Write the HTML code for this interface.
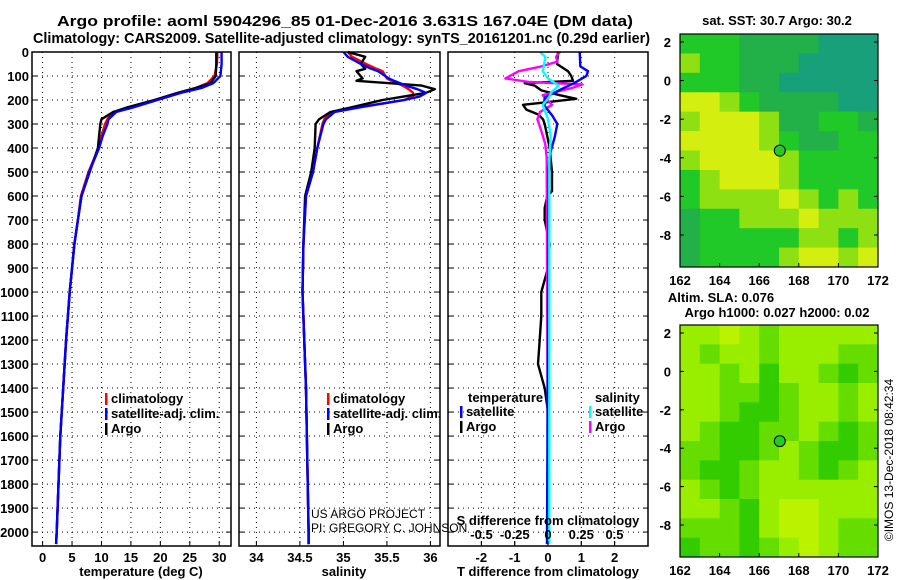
<!DOCTYPE html>
<html><head><meta charset="utf-8"><style>
html,body{margin:0;padding:0;background:#fff;width:900px;height:580px;overflow:hidden}
svg{display:block;font-family:"Liberation Sans",sans-serif}
.b{font-weight:bold;font-size:13px}
.t{font-weight:bold;font-size:15px}
</style></head><body>
<svg id="fig" width="900" height="580" viewBox="0 0 900 580" xmlns="http://www.w3.org/2000/svg">
<text class="t" x="57" y="26" textLength="576" lengthAdjust="spacingAndGlyphs">Argo profile: aoml 5904296_85 01-Dec-2016 3.631S 167.04E (DM data)</text>
<text class="t" x="33" y="43" textLength="617" lengthAdjust="spacingAndGlyphs">Climatology: CARS2009. Satellite-adjusted climatology: synTS_20161201.nc (0.29d earlier)</text>
<g id="g"></g>
</svg>
<script>
// ---- profile data ----
const tempDepth = [0,50,100,130,150,170,200,230,250,280,300,350,400,500,600,700,800,1000,1200,1400,1600,1800,2000,2050];
const tempClim = [29.7,29.6,29.2,28,26,23,19,15,12,11,10.6,10,9.5,7.8,6.5,6,5.4,4.6,4,3.5,3,2.7,2.4,2.3];
const tempArgo = [29.5,29.5,29.4,28.5,26,23,19,14.5,12,10,9.8,9.6,9.4,8.0,6.6,6,5.4,4.6,4,3.5,3,2.7,2.4,2.3];
const tempSat = [30.4,30.4,30.2,29,27,23.5,19.5,15.5,12.5,11.2,11,10.2,9.6,7.9,6.6,6,5.4,4.6,4,3.5,3,2.7,2.4,2.3];
const salDepth = [0,20,50,70,80,110,120,140,155,170,185,200,230,250,280,300,400,500,600,800,1000,1400,2000,2050];
const salClim = [35.05,35.1,35.26,35.38,35.45,35.5,35.55,35.68,35.75,35.8,35.8,35.7,35.18,34.87,34.78,34.76,34.7,34.65,34.57,34.54,34.53,34.57,34.6,34.6];
const salArgo = [35.05,35.25,35.2,35.25,35.15,35.22,35.15,35.9,36.05,35.95,35.7,35.45,35.1,34.85,34.72,34.68,34.67,34.63,34.56,34.54,34.53,34.57,34.6,34.6];
const salSat = [35.0,35.05,35.2,35.32,35.4,35.52,35.58,35.72,35.85,35.95,35.88,35.7,35.2,34.9,34.8,34.77,34.7,34.65,34.57,34.54,34.53,34.57,34.6,34.6];
const dTArgoDepth = [0,50,80,100,120,130,140,160,180,195,210,220,240,260,280,300,400,500,580,600,650,700,800,900,1000,1100,1200,1300,1400,1500,2000,2050];
const dTArgo = [0.3,0.27,0.6,0.7,0.75,-0.7,-0.4,-0.2,0.35,0.85,-0.1,-0.75,-0.65,-0.3,-0.15,-0.1,0.05,0.12,0.12,-0.02,-0.1,-0.1,0.05,0,-0.2,-0.2,-0.25,-0.3,-0.1,0,0,0];
const dTSatDepth = [0,60,80,100,130,155,190,225,265,300,355,420,485,2050];
const dTSat = [0.95,0.97,1.2,1.15,0.78,0.4,-0.1,-0.1,0.13,0.28,0.2,0.07,0.02,-0.03];
const dSArgoDepth = [0,20,40,60,80,110,125,135,150,180,220,250,280,330,385,440,2050];
const dSArgo = [0.09,0.06,0.07,-0.05,-0.22,-0.32,-0.14,0.26,0.18,-0.04,0.03,-0.06,-0.08,-0.05,-0.02,-0.01,0];
const dSSatDepth = [0,20,55,80,110,140,165,195,220,280,350,450,2050];
const dSSat = [-0.06,-0.02,-0.03,-0.04,0,0.08,0.03,0,-0.04,0,0.02,0.01,0.01];
const depthTicks = [0,100,200,300,400,500,600,700,800,900,1000,1100,1200,1300,1400,1500,1600,1700,1800,1900,2000];
const tTicks = [0,5,10,15,20,25,30];
const sTicks = [34,34.5,35,35.5,36];
const dTTicks = [-2,-1,0,1,2];
const dSTicks = [-0.5,-0.25,0,0.25,0.5];
const dSTickLabels = ["-0.5","-0.25","0","0.25","0.5"];
// ---- map data (coarse cells, lat 2.4 -> -9.6, lon 162 -> 172) ----
const sstLevels = [
[2,2,2,1,1,1,1,0,0,0],[3,2,2,1,1,1,0,0,0,0],[2,2,2,1,1,0,0,0,0,0],[4,4,3,2,1,1,1,1,0,0],
[3,4,4,4,3,1,1,2,2,1],[4,4,4,4,3,2,1,1,2,2],[3,4,4,4,4,3,2,2,2,2],[2,3,4,4,4,3,2,2,2,2],
[2,3,3,3,3,4,3,2,3,2],[1,2,2,3,3,3,4,3,3,3],[1,2,2,2,2,2,3,3,2,3],[1,2,2,2,2,3,4,4,3,4]];
const slaLevels = [
[2,2,3,2,1,2,2,2,2,2],[2,1,2,2,1,2,2,2,1,1],[2,2,1,2,0,2,2,1,0,1],[2,2,1,1,0,1,2,2,1,2],
[2,2,1,0,0,1,2,2,1,2],[2,1,0,0,1,1,2,1,0,1],[1,1,0,0,1,2,1,0,0,1],[1,0,0,1,2,2,1,0,1,2],
[2,1,0,1,2,2,2,2,2,2],[2,2,1,0,2,3,3,2,2,2],[1,1,1,0,2,3,3,2,1,1],[0,1,1,0,1,2,3,2,1,1]];
const sstColors = ["#18a07a","#22b048","#20c828","#8ee012","#d4ee10"];
const slaColors = ["#33cc00","#66dd00","#99ee00","#bbf200"];
const lonTicks = [162,164,166,168,170,172];
const latTicks = [2,0,-2,-4,-6,-8];
const floatLon = 167.04, floatLat = -3.631;

const NS="http://www.w3.org/2000/svg";
const G=document.getElementById('g');
function mk(tag,attrs,parent){const e=document.createElementNS(NS,tag);for(const k in attrs)e.setAttribute(k,attrs[k]);(parent||G).appendChild(e);return e;}
function txt(x,y,s,cls,anchor,parent){const e=mk('text',{x:x,y:y,'class':cls||'b','text-anchor':anchor||'middle'},parent);e.textContent=s;return e;}

const TOP=52, BOT=546, DMAX=2058;
const yD = d => TOP + d/DMAX*(BOT-TOP);
function panel(name,x0,x1,xmin,xmax){
  const sx = v => x0 + (v-xmin)/(xmax-xmin)*(x1-x0);
  const g=mk('g',{});
  
  
  return {x0,x1,sx,g};
}
function grid(p,xt){
  depthTicks.forEach(d=>{ if(d>0){const l=mk('line',{x1:p.x0,x2:p.x1,y1:yD(d),y2:yD(d),stroke:'#000','stroke-width':1,'stroke-dasharray':'1,4'},p.g);
     }
    mk('line',{x1:p.x0,x2:p.x0+5,y1:yD(d),y2:yD(d),stroke:'#000'},p.g);
    mk('line',{x1:p.x1-5,x2:p.x1,y1:yD(d),y2:yD(d),stroke:'#000'},p.g);});
  xt.forEach(v=>{const x=p.sx(v);
    const l=mk('line',{x1:x,x2:x,y1:TOP,y2:BOT,stroke:'#000','stroke-width':1,'stroke-dasharray':'1,4'},p.g);
     
    mk('line',{x1:x,x2:x,y1:BOT-5,y2:BOT,stroke:'#000'},p.g);});
}
function frame(p){const r=mk('rect',{x:p.x0,y:TOP,width:p.x1-p.x0,height:BOT-TOP,fill:'none',stroke:'#000','stroke-width':1.5},p.g);
   }
function line(p,ds,vs,col,name,sx){
  const f=sx||p.sx;
  const pts=ds.map((d,i)=>f(vs[i]).toFixed(1)+','+yD(d).toFixed(1)).join(' ');
  const e=mk('polyline',{points:pts,fill:'none',stroke:col,'stroke-width':2.4,'stroke-linejoin':'round'},p.g);
  
  
}
function legendEntry(x,y,col,label,parent){
  mk('rect',{x:x,y:y-10,width:2.5,height:12,fill:col},parent);
  const t=txt(x+6,y,label,'b','start',parent);
   
}

depthTicks.forEach(d=>{const t=txt(29,yD(d)+5,String(d),'b','end');
   });

// Panel 1 temperature
const p1=panel('temperature-panel',32,231,-1.8,32);
grid(p1,tTicks);
line(p1,tempDepth,tempClim,'#f00','clim-temperature-line');
line(p1,tempDepth,tempArgo,'#000','argo-temperature-line');
line(p1,tempDepth,tempSat,'#00f','sat-temperature-line');
frame(p1);
tTicks.forEach(v=>{const t=txt(p1.sx(v),562,String(v));  });
{const t=txt(141,576,'temperature (deg C)');  }
legendEntry(105,403,'#f00','climatology',p1.g);
legendEntry(105,418,'#00f','satellite-adj. clim.',p1.g);
legendEntry(105,433,'#000','Argo',p1.g);

// Panel 2 salinity
const p2=panel('salinity-panel',239,440,33.8,36.11);
grid(p2,sTicks);
line(p2,salDepth,salClim,'#f00','clim-salinity-line');
line(p2,salDepth,salArgo,'#000','argo-salinity-line');
line(p2,salDepth,salSat,'#00f','sat-salinity-line');
frame(p2);
sTicks.forEach(v=>{const t=txt(p2.sx(v),562,String(v));  });
{const t=txt(344,576,'salinity');  }
legendEntry(327,403,'#f00','climatology',p2.g);
legendEntry(327,418,'#00f','satellite-adj. clim.',p2.g);
legendEntry(327,433,'#000','Argo',p2.g);
{const a=mk('text',{x:311,y:518,'font-size':12}); a.textContent='US ARGO PROJECT';
  
 const b=mk('text',{x:311,y:532,'font-size':12}); b.textContent='PI: GREGORY C. JOHNSON';
  }

// Panel 3 differences
const p3=panel('difference-panel',448,648,-3,3);
const sxS = v => 548 + v*133;
grid(p3,dTTicks);
line(p3,dTArgoDepth,dTArgo,'#000','argo-t-diff-line');
line(p3,dSArgoDepth,dSArgo,'#f0f','argo-s-diff-line',sxS);
line(p3,dTSatDepth,dTSat,'#00f','sat-t-diff-line');
line(p3,dSSatDepth,dSSat,'#0ff','sat-s-diff-line',sxS);
frame(p3);
dTTicks.forEach(v=>{const t=txt(p3.sx(v),562,String(v));  });
dSTicks.forEach((v,i)=>{const t=txt(sxS(v),539,dSTickLabels[i]);  
  mk('line',{x1:sxS(v),x2:sxS(v),y1:BOT-5,y2:BOT,stroke:'#000'},p3.g);});
{const t=txt(548,525,'S difference from climatology');  }
{const t=txt(548,576,'T difference from climatology');  }
{const t=txt(468,402,'temperature','b','start');  
 const s=txt(595,402,'salinity','b','start');  }
legendEntry(460,416,'#00f','satellite',p3.g);
legendEntry(460,431,'#000','Argo',p3.g);
legendEntry(589,416,'#0ff','satellite',p3.g);
legendEntry(589,431,'#f0f','Argo',p3.g);

// Maps
function drawMap(name,y0,y1,lat2y,lat8y,levels,colors){
  const X0=680,X1=878;
  const lx = lon => X0 + (lon-162)/10*(X1-X0);
  const ly = lat => lat2y + (2-lat)/10*(lat8y-lat2y);
  const g=mk('g',{});
  
  
  const nr=levels.length, cellH=(y1-y0)/nr;
  levels.forEach((row,i)=>row.forEach((v,j)=>{
    const cw=(X1-X0)/row.length;
    const r=mk('rect',{x:X0+j*cw,y:y0+i*cellH,width:cw+0.5,height:cellH+0.5,fill:colors[v]},g);
     
  }));
  const m=mk('circle',{cx:lx(floatLon),cy:ly(floatLat),r:5.5,fill:'#22cc22',stroke:'#000','stroke-width':1},g);
   
  mk('rect',{x:X0,y:y0,width:X1-X0,height:y1-y0,fill:'none',stroke:'#000','stroke-width':1.2},g);
  latTicks.forEach(l=>{const t=txt(671,ly(l)+5,String(l),'b','end',g);  
    mk('line',{x1:X0,x2:X0+4,y1:ly(l),y2:ly(l),stroke:'#000'},g); mk('line',{x1:X1-4,x2:X1,y1:ly(l),y2:ly(l),stroke:'#000'},g);});
  lonTicks.forEach(l=>{const t=txt(lx(l),y1+18,String(l),'b','middle',g);  
    mk('line',{x1:lx(l),x2:lx(l),y1:y1-4,y2:y1,stroke:'#000'},g);});
}
drawMap('sst-map',34,267,42,235,sstLevels,sstColors);
drawMap('sla-map',325,557,333,525,slaLevels,slaColors);
{const t=txt(777,25,'sat. SST: 30.7 Argo: 30.2');  }
{const t=txt(721,302,'Altim. SLA: 0.076');  }
{const t=txt(777,317,'Argo h1000: 0.027 h2000: 0.02');  }
{const t=mk('text',{x:0,y:0,'font-size':12,'text-anchor':'middle',transform:'translate(893,460) rotate(-90)'}); t.textContent='©IMOS 13-Dec-2018 08:42:34';
  }
</script>
</body></html>
